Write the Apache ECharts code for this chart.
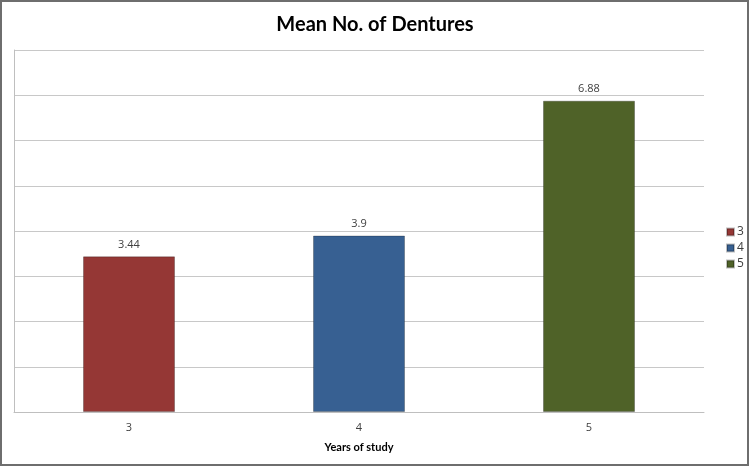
<!DOCTYPE html>
<html>
<head>
<meta charset="utf-8">
<script src="https://cdn.jsdelivr.net/npm/echarts@6/dist/echarts.min.js"></script>
<style>
  html, body { margin: 0; padding: 0; background: #fff; }
  #chart { width: 750px; height: 467px; }
</style>
</head>
<body>
<div id="chart"></div>
<script>
// data
const years = ['3', '4', '5']
const means = [3.44, 3.9, 6.88]
const barColors = ['#953735', '#376092', '#4F6228']
const yMax = 8

// one series per year so the legend lists 3 / 4 / 5, stacked to keep the bar centred
let series = []
for (let i = 0; i < years.length; i++) {
	let values = years.map((y, j) => (j === i ? means[i] : '-'))
	series.push({
		name: years[i],
		type: 'bar',
		stack: 'all',
		barWidth: '40%',
		data: values,
		itemStyle: {
			color: barColors[i],
			borderColor: 'rgba(0,0,0,0.25)',
			borderWidth: 1,
		},
		label: {
			show: true,
			position: 'top',
			distance: 6,
			color: '#404040',
			fontSize: 11,
			fontFamily: 'Open Sans',
		},
	})
}

const option = {
	animation: false,
	title: {
		text: 'Mean No. of Dentures',
		left: 'center',
		top: 10,
		textStyle: {
			fontFamily: 'Lato',
			fontWeight: 'bold',
			fontSize: 20,
			color: '#000',
		},
	},
	legend: {
		orient: 'vertical',
		left: 721,
		top: 221,
		itemWidth: 7,
		itemHeight: 7,
		itemGap: 4,
		icon: 'rect',
		textStyle: {
			fontSize: 12,
			color: '#404040',
			fontFamily: 'Open Sans',
			padding: [0, 0, 0, -2],
		},
	},
	grid: {
		left: 14,
		right: 46,
		top: 50,
		bottom: 55,
	},
	xAxis: {
		type: 'category',
		data: years,
		name: 'Years of study',
		nameLocation: 'middle',
		nameGap: 30,
		nameTextStyle: {
			fontFamily: 'Lato',
			fontWeight: 'bold',
			fontSize: 11,
			color: '#000',
		},
		axisLine: { lineStyle: { color: '#bfbfbf', width: 1 } },
		axisTick: { show: false },
		axisLabel: { color: '#404040', fontSize: 11, margin: 10, fontFamily: 'Open Sans' },
	},
	yAxis: {
		type: 'value',
		min: 0,
		max: yMax,
		interval: 1,
		axisLine: { show: true, lineStyle: { color: '#bfbfbf', width: 1 } },
		axisTick: { show: false },
		axisLabel: { show: false },
		splitLine: { lineStyle: { color: '#c8c8c8', width: 1 } },
	},
	graphic: [
		{
			type: 'rect',
			shape: { x: 1, y: 1, width: 747, height: 464 },
			style: { fill: 'none', stroke: '#6e6e6e', lineWidth: 2 },
			silent: true,
		},
	],
	series: series,
}

var chart = echarts.init(document.getElementById('chart'))
chart.setOption(option)
</script>
</body>
</html>
